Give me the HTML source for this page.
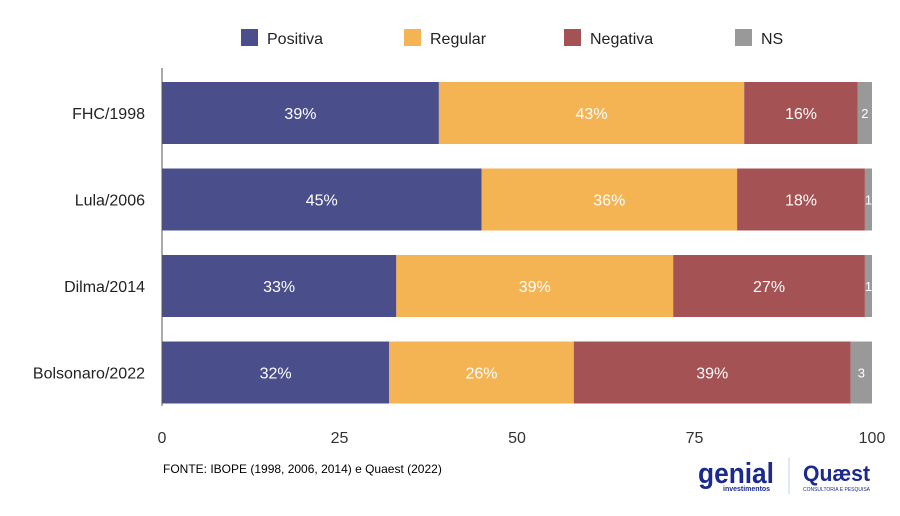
<!DOCTYPE html>
<html><head><meta charset="utf-8"><style>
body{margin:0;background:#fff;font-family:"Liberation Sans",sans-serif;}
svg text{font-family:"Liberation Sans",sans-serif;}
</style></head><body>
<svg width="900" height="511" viewBox="0 0 900 511" xmlns="http://www.w3.org/2000/svg">
<g id="legend"></g>
<g id="bars"></g>
<g id="axes"></g>
<text x="163" y="473" font-size="12" fill="#000">FONTE: IBOPE (1998, 2006, 2014) e Quaest (2022)</text>
<g>
<text x="698" y="483" font-size="29" font-weight="bold" fill="#1b2a8c" textLength="76" lengthAdjust="spacingAndGlyphs">genial</text>
<text x="723" y="491" font-size="7" font-weight="bold" fill="#1b2a8c">investimentos</text>
</g>
<line x1="789" y1="458" x2="789" y2="494" stroke="#bcd3ea" stroke-width="1"/>
<g>
<text x="803" y="481" font-size="22" font-weight="bold" fill="#1b2a8c" textLength="67" lengthAdjust="spacingAndGlyphs">Quæst</text>
<text x="803" y="491" font-size="5" fill="#1b2a8c" textLength="67" lengthAdjust="spacingAndGlyphs">CONSULTORIA E PESQUISA</text>
</g>
</svg>
<script>
const categories=["FHC/1998","Lula/2006","Dilma/2014","Bolsonaro/2022"];
const seriesNames=["Positiva","Regular","Negativa","NS"];
const positiva=[39,45,33,32];
const regular=[43,36,39,26];
const negativa=[16,18,27,39];
const ns=[2,1,1,3];
const ticks=[0,25,50,75,100];
const colors=["#4a4f8c","#f4b454","#a45254","#999999"];
const NS="http://www.w3.org/2000/svg";
const x0=162,x1=872,top0=68,bandH=86.5;
const xs=v=>x0+(v/100)*(x1-x0);
const ys=i=>top0+i*bandH+14;
const bh=62;
function mk(t,a,p){const e=document.createElementNS(NS,t);for(const k in a)e.setAttribute(k,a[k]);p.appendChild(e);return e;}
const bars=document.getElementById('bars'),axes=document.getElementById('axes'),leg=document.getElementById('legend');
const all=[positiva,regular,negativa,ns];
categories.forEach((c,i)=>{
  let acc=0;
  all.forEach((s,j)=>{
    const v=s[i];
    const r=mk('rect',{x:xs(acc),y:ys(i),width:xs(acc+v)-xs(acc),height:bh,fill:colors[j]},bars);
    
    
    const big=j<3;
    const t=mk('text',{x:(xs(acc)+xs(acc+v))/2,y:ys(i)+bh/2+(big?6:5),'text-anchor':'middle','font-size':big?16:13,fill:'#fff'},bars);
    t.textContent=big?v+'%':v;
    
    
    acc+=v;
  });
  const l=mk('text',{x:145,y:ys(i)+bh/2+6,'text-anchor':'end','font-size':16,fill:'#222'},axes);
  l.textContent=c;
  
  
});
const al=mk('line',{x1:x0,y1:top0,x2:x0,y2:406,stroke:'#555','stroke-width':1},axes);


ticks.forEach(t=>{
  const tl=mk('text',{x:xs(t),y:443,'text-anchor':'middle','font-size':16,fill:'#333'},axes);
  tl.textContent=t;
  
  
});
const legX=[241,404,564,735];
seriesNames.forEach((n,j)=>{
  const r=mk('rect',{x:legX[j],y:29,width:17,height:17,fill:colors[j]},leg);
  
  
  const t=mk('text',{x:legX[j]+26,y:44,'font-size':16,fill:'#222'},leg);
  t.textContent=n;
  
  
});
</script>
</body></html>
